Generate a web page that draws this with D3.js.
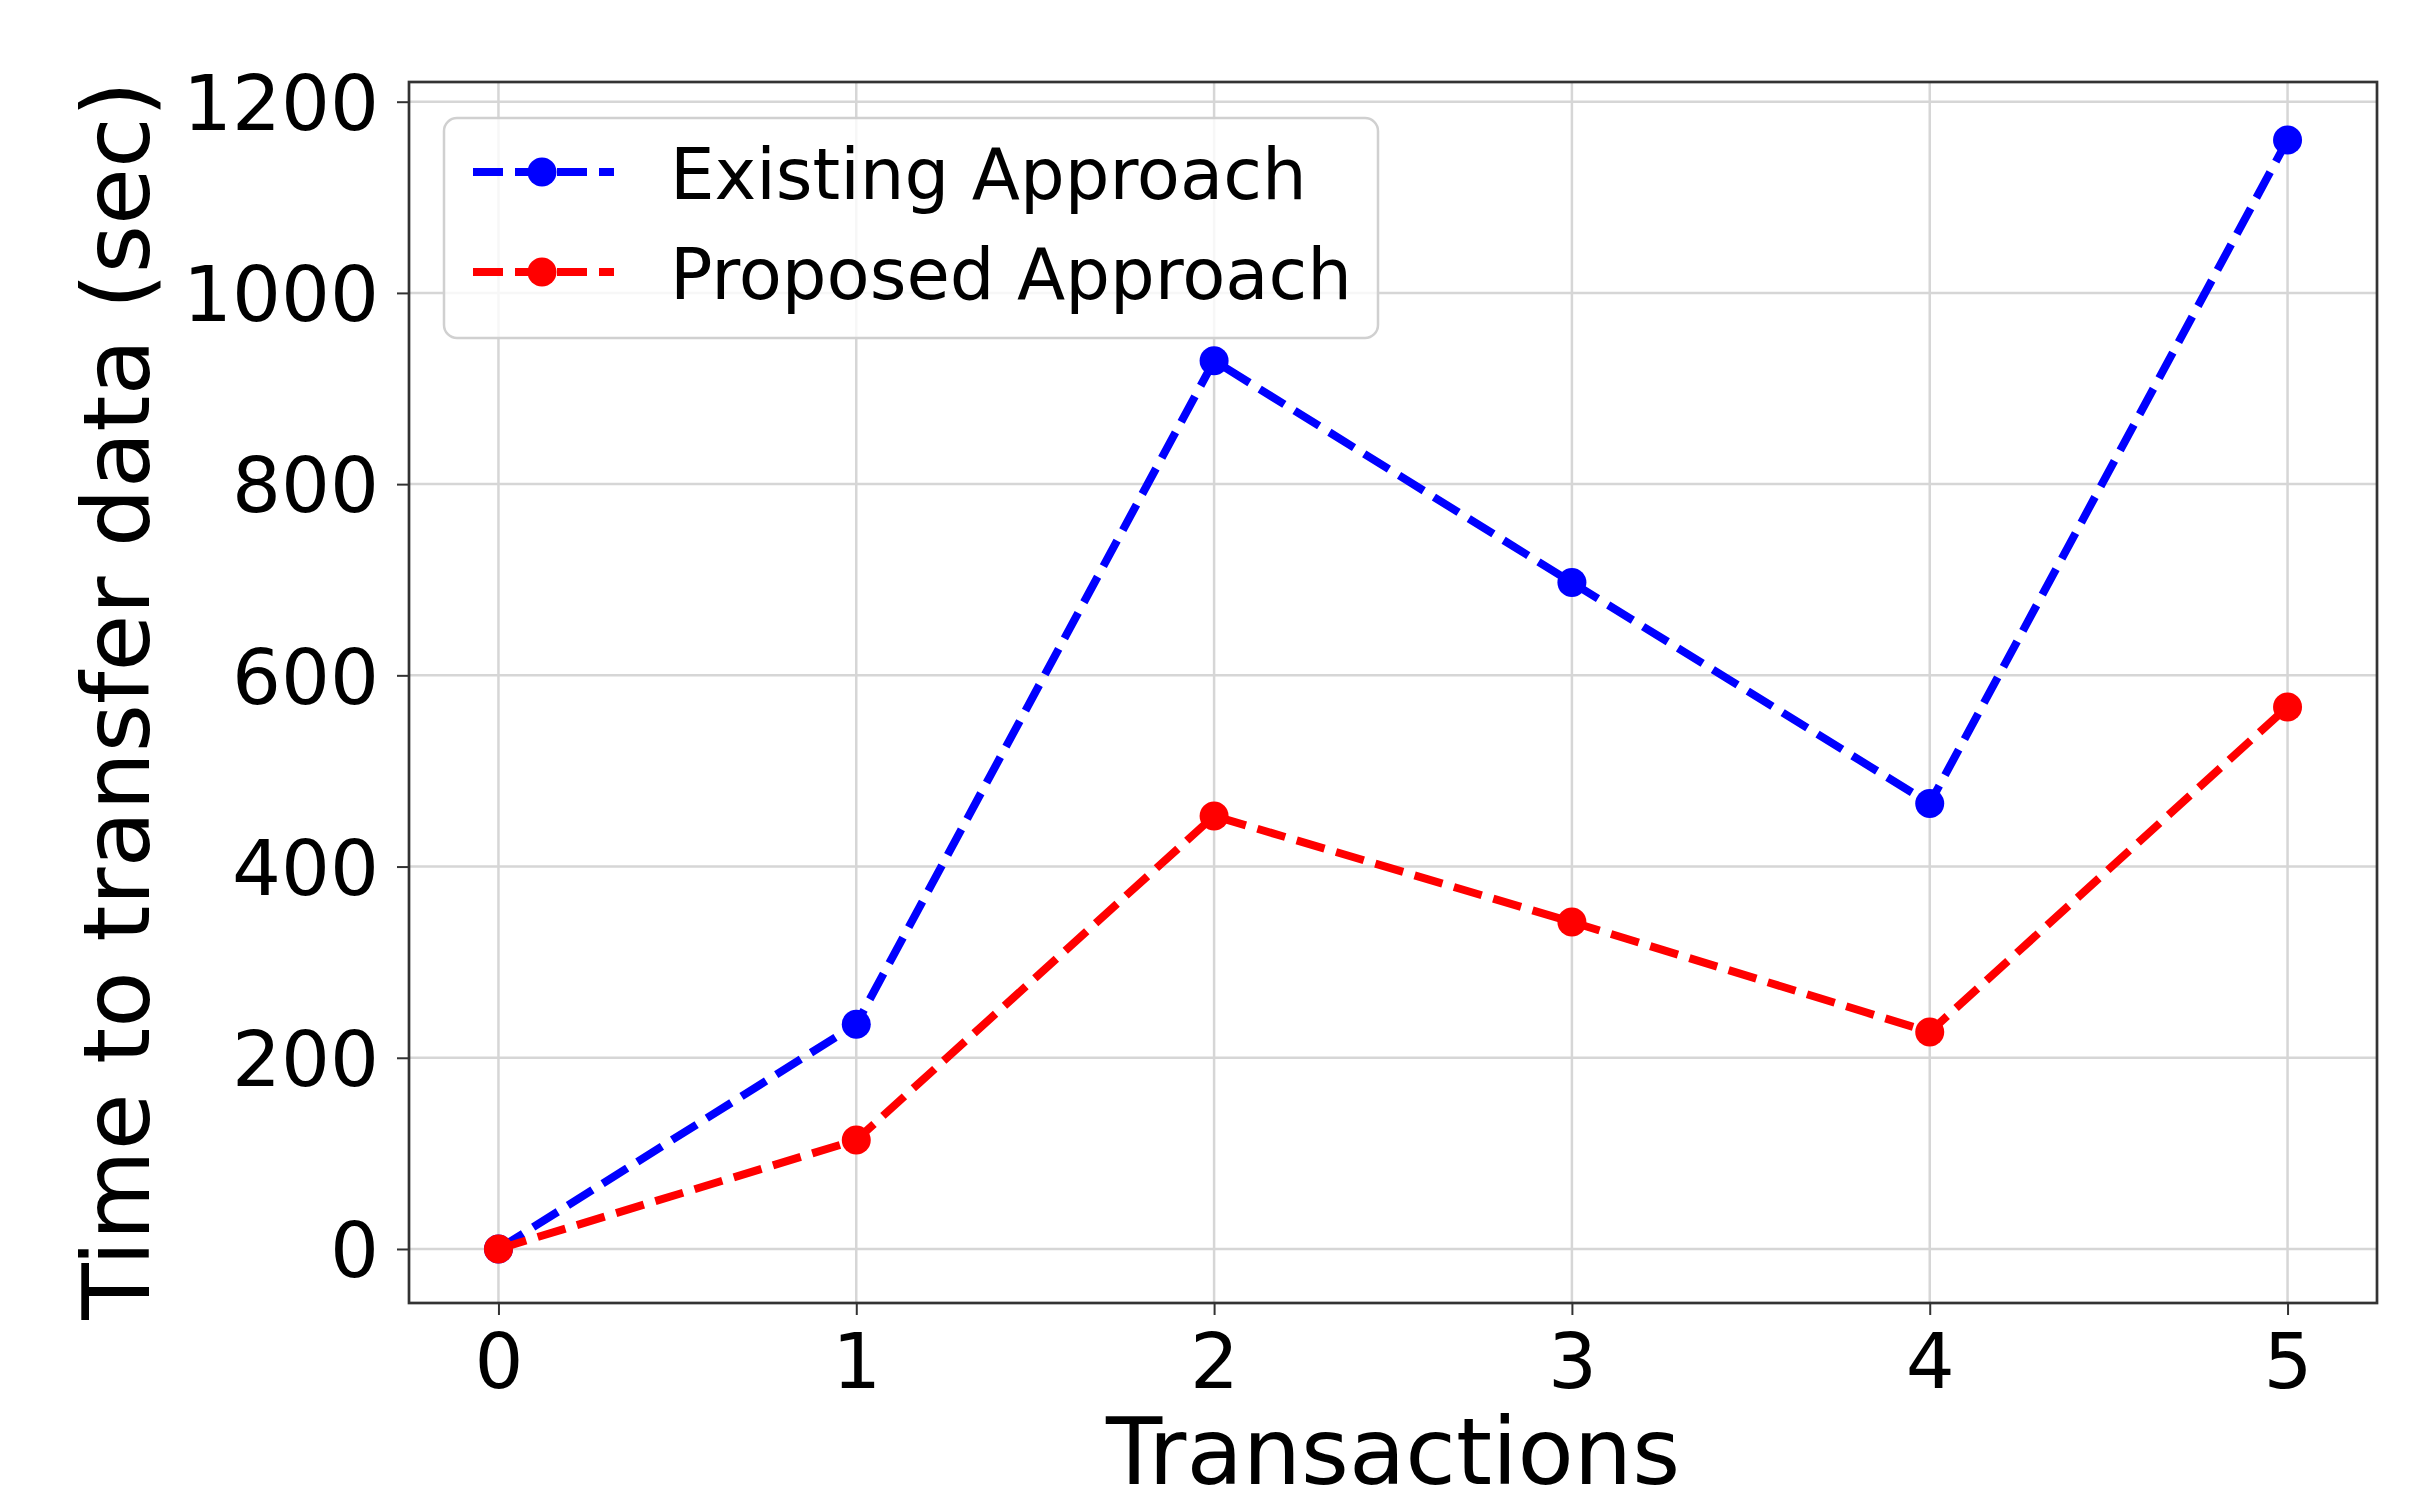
<!DOCTYPE html>
<html>
<head>
<meta charset="utf-8">
<script src="https://cdn.jsdelivr.net/npm/d3@7"></script>
<style>
  html, body { margin: 0; padding: 0; background: #ffffff; }
  svg { display: block; }
  text { font-family: "DejaVu Sans", sans-serif; fill: #000; }
</style>
</head>
<body>
<script>
// ---- data ----
const transactions = [0, 1, 2, 3, 4, 5];
const existingApproach = [0, 235, 929, 697, 466, 1160];
const proposedApproach = [0, 114, 453, 342, 227, 567];
const xTicks = [0, 1, 2, 3, 4, 5];
const yTicks = [0, 200, 400, 600, 800, 1000, 1200];
const seriesNames = ["Existing Approach", "Proposed Approach"];
const seriesColors = ["#0000ff", "#ff0000"];
const xLabel = "Transactions";
const yLabel = "Time to transfer data (sec)";

// ---- layout ----
const W = 2418, H = 1507;
const plot = { left: 409, right: 2377, top: 82, bottom: 1303 };

const svg = d3.select("body").append("svg").attr("width", W).attr("height", H);

const x = d3.scaleLinear().domain([-0.25, 5.25]).range([plot.left, plot.right]);
const y = d3.scaleLinear().domain([-56.5, 1220.6]).range([plot.bottom, plot.top]);

// grid
const grid = svg.append("g");
grid.selectAll("line.gx").data(xTicks).enter().append("line")
  .attr("x1", d => x(d)).attr("x2", d => x(d))
  .attr("y1", plot.top).attr("y2", plot.bottom)
  .attr("stroke", "#d6d6d6").attr("stroke-width", 2.5);
grid.selectAll("line.gy").data(yTicks).enter().append("line")
  .attr("x1", plot.left).attr("x2", plot.right)
  .attr("y1", d => y(d)).attr("y2", d => y(d))
  .attr("stroke", "#d6d6d6").attr("stroke-width", 2.5);

// axes
const xAxis = d3.axisBottom(x).tickValues(xTicks).tickFormat(d3.format("d"))
  .tickSizeInner(12).tickSizeOuter(0).tickPadding(16);
const gx = svg.append("g").attr("transform", `translate(0,${plot.bottom})`).call(xAxis);
gx.select(".domain").remove();
gx.selectAll(".tick line").attr("stroke", "#333").attr("stroke-width", 2);
gx.selectAll(".tick text").attr("font-size", 77).attr("font-family", "DejaVu Sans")
  .attr("fill", "#000").attr("dy", null).attr("y", 85);

const yAxis = d3.axisLeft(y).tickValues(yTicks).tickFormat(d3.format("d"))
  .tickSizeInner(12).tickSizeOuter(0).tickPadding(18);
const gy = svg.append("g").attr("transform", `translate(${plot.left},0)`).call(yAxis);
gy.select(".domain").remove();
gy.selectAll(".tick line").attr("stroke", "#333").attr("stroke-width", 2);
gy.selectAll(".tick text").attr("font-size", 77).attr("font-family", "DejaVu Sans")
  .attr("fill", "#000").attr("dy", "0.36em").attr("x", -30);

// series lines + markers
const line = d3.line().x((d, i) => x(transactions[i])).y(d => y(d));
const seriesData = [existingApproach, proposedApproach];
seriesData.forEach((vals, si) => {
  const g = svg.append("g");
  g.append("path").datum(vals)
    .attr("d", line)
    .attr("fill", "none")
    .attr("stroke", seriesColors[si])
    .attr("stroke-width", 8)
    .attr("stroke-dasharray", "29,12");
  g.selectAll("circle").data(vals).enter().append("circle")
    .attr("cx", (d, i) => x(transactions[i]))
    .attr("cy", d => y(d))
    .attr("r", 14.5)
    .attr("fill", seriesColors[si]);
});

// frame (spines)
svg.append("rect")
  .attr("x", plot.left).attr("y", plot.top)
  .attr("width", plot.right - plot.left).attr("height", plot.bottom - plot.top)
  .attr("fill", "none").attr("stroke", "#333").attr("stroke-width", 2.7);

// legend
const leg = svg.append("g");
leg.append("rect")
  .attr("x", 444).attr("y", 118).attr("width", 934).attr("height", 220)
  .attr("rx", 13).attr("ry", 13)
  .attr("fill", "#ffffff").attr("fill-opacity", 0.8)
  .attr("stroke", "#d0d0d0").attr("stroke-width", 2.5);
seriesNames.forEach((name, i) => {
  const cy = 172 + i * 100;
  leg.append("line")
    .attr("x1", 473).attr("x2", 614).attr("y1", cy).attr("y2", cy)
    .attr("stroke", seriesColors[i]).attr("stroke-width", 8)
    .attr("stroke-dasharray", "30,12");
  leg.append("circle").attr("cx", 542).attr("cy", cy).attr("r", 14.5)
    .attr("fill", seriesColors[i]);
  leg.append("text").attr("x", 670).attr("y", cy + 27)
    .attr("font-size", 70.5).text(name);
});

// axis labels
svg.append("text")
  .attr("x", (plot.left + plot.right) / 2).attr("y", 1484)
  .attr("text-anchor", "middle").attr("font-size", 92).text(xLabel);
svg.append("text")
  .attr("transform", `translate(149,${(plot.top + plot.bottom) / 2 + 8}) rotate(-90)`)
  .attr("text-anchor", "middle").attr("font-size", 92.5).text(yLabel);
</script>
</body>
</html>
